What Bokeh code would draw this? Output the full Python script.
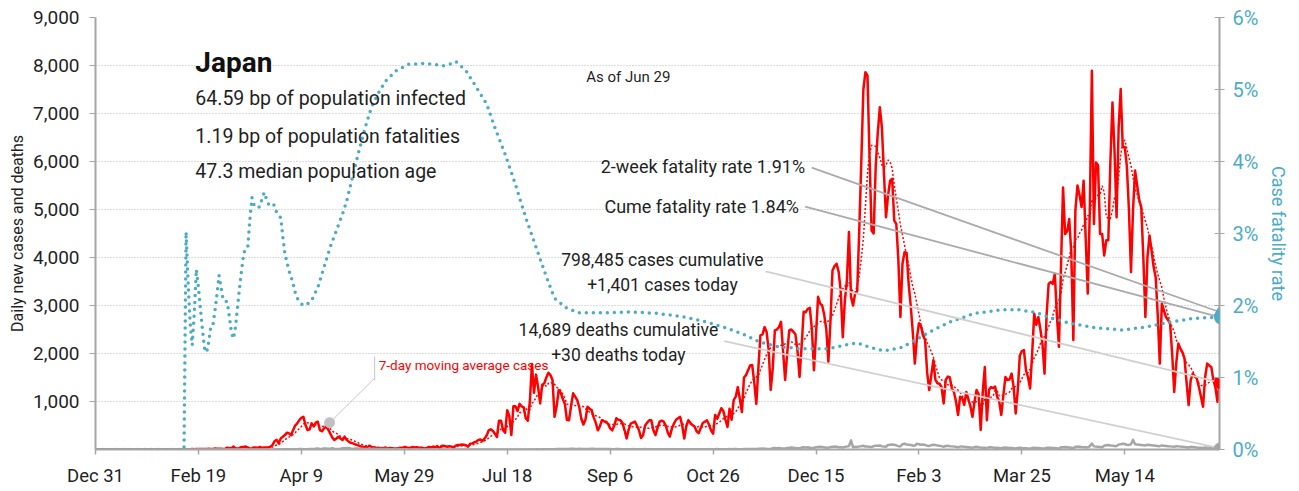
import pandas as pd
from bokeh.plotting import figure
from bokeh.models import Range1d, LinearAxis, FixedTicker, NumeralTickFormatter, PrintfTickFormatter, ColumnDataSource, Label
from bokeh.core.properties import value
from bokeh.embed import file_html
from bokeh.resources import INLINE

FONT = "Roboto"
TEAL = "#4BACC6"
RED = "#FF0000"
GRAY = "#A6A6A6"
TXT = "#1F1F1F"

# ---- data (day index 0 = Dec 31 2019, one row per week Tue..Mon) ----
cases_weeks = [
    [0, 0, 0, 0, 0, 0, 0], [0, 0, 0, 0, 0, 0, 0], [0, 0, 1, 0, 0, 0, 0], [0, 0, 1, 1, 0, 0, 1],
    [2, 1, 4, 2, 0, 0, 1], [0, 0, 0, 1, 0, 0, 0], [1, 0, 1, 6, 7, 13, 4], [13, 11, 8, 12, 10, 9, 14],
    [12, 9, 23, 15, 17, 15, 11], [18, 39, 29, 28, 60, 28, 15], [34, 52, 53, 62, 41, 23, 15],
    [44, 39, 36, 51, 35, 43, 41], [41, 60, 96, 177, 200, 128, 232], [266, 300, 351, 336, 300, 405, 500],
    [544, 613, 658, 683, 509, 405, 420], [544, 482, 560, 579, 405, 380, 440],
    [475, 420, 336, 250, 198, 230, 267], [230, 198, 267, 200, 163, 140, 128],
    [110, 94, 80, 59, 59, 50, 40], [80, 55, 45, 40, 20, 30, 20], [30, 40, 20, 30, 26, 14, 21],
    [23, 38, 33, 50, 45, 30, 35], [52, 40, 48, 38, 35, 30, 18], [35, 55, 41, 62, 45, 72, 25],
    [72, 80, 70, 58, 70, 60, 40], [80, 95, 95, 105, 100, 85, 60], [120, 128, 150, 165, 200, 210, 180],
    [230, 290, 400, 420, 390, 330, 260], [600, 600, 400, 350, 820, 700, 300],
    [900, 900, 800, 950, 900, 880, 650], [600, 1000, 1780, 1180, 1560, 1300, 960],
    [1350, 1380, 1500, 1600, 1550, 1450, 680], [900, 1240, 1180, 1050, 950, 620, 610],
    [900, 1170, 1100, 1030, 880, 640, 520], [620, 890, 850, 820, 670, 560, 400],
    [480, 610, 590, 580, 530, 440, 400], [500, 650, 620, 610, 550, 400, 230],
    [420, 540, 560, 580, 500, 400, 240], [300, 500, 560, 610, 610, 400, 300],
    [450, 580, 600, 580, 500, 350, 270], [440, 540, 620, 650, 680, 500, 230],
    [490, 610, 550, 510, 480, 380, 340], [450, 550, 580, 610, 520, 400, 330],
    [720, 640, 750, 860, 800, 620, 470], [850, 620, 1030, 1100, 1300, 1050, 780],
    [1500, 1550, 1650, 1750, 1760, 1400, 950], [1700, 2380, 2400, 2550, 2450, 2070, 1240],
    [1700, 2480, 2500, 2550, 2660, 2050, 1450], [2000, 2480, 2500, 2450, 2400, 2050, 1510],
    [2150, 2870, 2860, 2930, 2950, 2500, 1650], [2400, 3180, 3040, 3000, 2800, 2500, 1830],
    [2650, 3730, 3820, 3870, 3700, 3300, 2340], [3100, 3520, 4530, 3180, 3000, 3250, 3300],
    [4560, 6000, 7500, 7860, 7790, 6100, 4560], [4500, 5900, 6600, 7130, 6710, 5750, 4840],
    [5300, 5600, 5640, 4770, 4700, 3950, 2760], [3870, 4110, 4100, 3450, 3000, 2450, 1790],
    [2320, 2630, 2570, 2370, 2280, 1600, 1240], [1550, 1860, 1450, 1380, 1370, 1300, 960],
    [1450, 1520, 1500, 1270, 1200, 1000, 720], [1100, 1070, 930, 1200, 1050, 900, 680],
    [1000, 1240, 1150, 410, 1200, 1720, 610], [1240, 1300, 1280, 1310, 1100, 1000, 720],
    [1130, 1510, 1450, 1460, 1580, 1300, 750], [1230, 1960, 2050, 2070, 1650, 1500, 1270],
    [2000, 2830, 2600, 2760, 2500, 2200, 1580], [2800, 3450, 3490, 3450, 3660, 2800, 2140],
    [3800, 5460, 4490, 4550, 4800, 4100, 2280], [4980, 5500, 5300, 5050, 5600, 4400, 3250],
    [4980, 7890, 4700, 5980, 5920, 4490, 4490], [4040, 4360, 4360, 6000, 7230, 6230, 4840],
    [6710, 7510, 6300, 6300, 5900, 5000, 3700], [5000, 5810, 5500, 5200, 5050, 4000, 2760],
    [4000, 4460, 4150, 3800, 3590, 2800, 1790], [3040, 2900, 2760, 2700, 2620, 2000, 1200],
    [1800, 2210, 2100, 2030, 1900, 1400, 925], [1445, 1580, 1520, 1480, 1300, 1100, 890],
    [1500, 1790, 1750, 1720, 1450, 1300, 994],
]
cases_last = [1401]

deaths_weeks = [
    [0, 0, 0, 0, 0, 0, 0], [0, 0, 0, 0, 0, 0, 0], [0, 0, 0, 0, 0, 0, 0], [0, 0, 0, 0, 0, 0, 0],
    [0, 0, 0, 0, 0, 0, 0], [0, 0, 0, 0, 0, 0, 0], [0, 0, 1, 0, 0, 0, 0], [0, 0, 0, 1, 0, 0, 0],
    [1, 0, 0, 1, 1, 0, 1], [1, 1, 0, 1, 0, 2, 0], [1, 2, 1, 0, 1, 1, 2], [2, 1, 1, 0, 2, 2, 1],
    [2, 2, 1, 2, 3, 4, 2], [5, 3, 4, 3, 5, 1, 6], [7, 9, 10, 7, 5, 7, 10], [13, 9, 14, 19, 12, 14, 20],
    [22, 15, 14, 29, 18, 11, 12], [18, 26, 27, 29, 32, 21, 13], [19, 23, 21, 18, 14, 13, 10],
    [14, 12, 14, 11, 10, 8, 10], [10, 9, 10, 6, 7, 5, 2], [8, 4, 3, 5, 4, 1, 2], [2, 1, 3, 2, 1, 2, 1],
    [2, 1, 1, 2, 1, 1, 0], [1, 2, 1, 1, 1, 0, 1], [2, 1, 1, 2, 0, 1, 1], [1, 0, 1, 0, 0, 1, 1],
    [1, 1, 0, 0, 2, 1, 1], [1, 2, 1, 1, 0, 1, 1], [1, 1, 2, 0, 1, 1, 1], [2, 2, 3, 2, 4, 3, 2],
    [5, 6, 5, 6, 7, 4, 4], [8, 10, 11, 10, 13, 12, 9], [16, 14, 12, 13, 15, 11, 12],
    [12, 12, 13, 16, 15, 8, 10], [12, 10, 10, 11, 8, 9, 6], [7, 9, 10, 8, 7, 6, 5], [6, 7, 9, 6, 5, 5, 4],
    [6, 8, 7, 6, 5, 4, 3], [5, 6, 5, 7, 6, 4, 4], [5, 6, 6, 5, 4, 6, 3], [7, 6, 5, 4, 6, 5, 4],
    [5, 7, 6, 5, 4, 5, 3], [6, 8, 5, 6, 7, 4, 5], [8, 7, 9, 8, 6, 7, 5], [10, 12, 11, 10, 9, 8, 9],
    [15, 18, 20, 17, 14, 13, 12], [25, 30, 28, 31, 24, 19, 22], [33, 35, 40, 38, 30, 25, 28],
    [40, 45, 42, 48, 38, 30, 35], [45, 50, 55, 52, 45, 40, 38], [50, 56, 60, 58, 48, 45, 42],
    [55, 62, 70, 190, 48, 55, 50], [65, 70, 78, 60, 62, 55, 50], [70, 80, 78, 85, 65, 60, 58],
    [95, 100, 105, 98, 85, 70, 65], [110, 120, 105, 100, 95, 85, 80], [120, 110, 100, 105, 95, 80, 75],
    [90, 100, 95, 85, 80, 70, 55], [75, 80, 70, 65, 60, 55, 45], [60, 65, 55, 50, 45, 40, 35],
    [50, 55, 45, 40, 38, 35, 30], [45, 48, 40, 38, 35, 30, 25], [38, 40, 35, 30, 30, 25, 20],
    [30, 35, 30, 28, 25, 22, 18], [30, 35, 32, 30, 28, 22, 20], [35, 38, 35, 32, 30, 25, 22],
    [45, 48, 50, 45, 40, 35, 30], [55, 60, 58, 52, 48, 45, 40], [70, 125, 65, 60, 55, 50, 45],
    [80, 90, 95, 85, 80, 75, 70], [105, 110, 120, 115, 100, 95, 110], [200, 110, 105, 100, 95, 90, 85],
    [100, 95, 90, 85, 80, 75, 70], [85, 80, 75, 70, 65, 60, 55], [70, 65, 60, 55, 50, 45, 40],
    [55, 50, 45, 40, 38, 35, 32], [40, 38, 35, 32, 30, 28, 25],
]
deaths_last = [30]

# cumulative case fatality rate (%), (day index, value)
cfr_points = [
    (0, 0), (43, 0), (44, 3.02), (45, 2.30), (46, 1.75), (47, 1.45), (48, 1.90), (49, 2.50), (50, 2.25),
    (51, 1.95), (52, 1.65), (53, 1.40), (54, 1.35), (55, 1.50), (56, 1.70), (57, 1.72), (58, 1.92),
    (59, 2.15), (60, 2.42), (61, 2.25), (62, 2.08), (63, 2.06), (64, 2.05), (65, 1.85), (66, 1.63),
    (67, 1.54), (68, 1.70), (69, 1.98), (70, 2.25), (71, 2.50), (72, 2.72), (73, 2.80), (74, 2.82),
    (75, 3.20), (76, 3.50), (77, 3.40), (78, 3.36), (79, 3.36), (80, 3.38), (81, 3.50), (82, 3.57),
    (83, 3.48), (84, 3.41), (85, 3.42), (86, 3.43), (87, 3.38), (88, 3.29), (89, 3.25), (90, 3.22),
    (91, 2.95), (92, 2.72), (93, 2.60), (94, 2.48), (95, 2.40), (96, 2.30), (97, 2.18), (98, 2.10),
    (100, 2.02), (102, 2.00), (105, 2.07), (108, 2.25), (111, 2.53), (114, 2.81), (117, 3.04),
    (120, 3.27), (122, 3.45), (125, 3.80), (128, 4.15), (131, 4.47), (134, 4.75), (138, 4.98),
    (141, 5.12), (146, 5.26), (152, 5.35), (159, 5.36), (164, 5.35), (169, 5.33), (172, 5.35),
    (175, 5.39), (180, 5.26), (185, 5.03), (190, 4.80), (194, 4.47), (199, 4.10), (204, 3.68),
    (209, 3.22), (214, 2.81), (219, 2.40), (223, 2.10), (229, 1.96), (235, 1.90), (248, 1.90),
    (261, 1.91), (273, 1.89), (286, 1.84), (297, 1.77), (305, 1.70), (314, 1.61), (322, 1.50),
    (331, 1.43), (343, 1.40), (356, 1.40), (364, 1.45), (370, 1.48), (376, 1.42), (383, 1.37),
    (392, 1.42), (400, 1.55), (407, 1.66), (415, 1.77), (427, 1.89), (435, 1.92), (440, 1.94),
    (449, 1.94), (457, 1.90), (465, 1.82), (474, 1.75), (486, 1.69), (499, 1.66), (510, 1.70),
    (522, 1.77), (533, 1.82), (546, 1.84),
]
two_week_cfr = 1.91

tick_days = [0, 50, 100, 150, 200, 250, 300, 350, 400, 450, 500]
tick_labels = ["Dec 31", "Feb 19", "Apr 9", "May 29", "Jul 18", "Sep 6", "Oct 26",
               "Dec 15", "Feb 3", "Mar 25", "May 14"]
left_ticks = [1000, 2000, 3000, 4000, 5000, 6000, 7000, 8000, 9000]
right_ticks = [0, 1, 2, 3, 4, 5, 6]

info_lines = ["64.59 bp of population infected", "1.19 bp of population fatalities",
              "47.3 median population age"]

# ---- derived ----
cases = [v for w in cases_weeks for v in w] + cases_last
deaths = [v for w in deaths_weeks for v in w] + deaths_last
days = list(range(len(cases)))
ma7 = pd.Series(cases).rolling(7, min_periods=1).mean().tolist()
cfr_days = [d for d, _ in cfr_points]
cfr_pct = [v for _, v in cfr_points]
last_day = days[-1]

src = ColumnDataSource(dict(day=days, cases=cases, ma=ma7, deaths=deaths))

p = figure(width=1299, height=490, x_range=Range1d(0, last_day), y_range=Range1d(0, 9000),
           output_backend="svg", toolbar_location=None,
           min_border_left=95, min_border_right=80, min_border_top=17, min_border_bottom=41)
p.extra_y_ranges = {"cfr": Range1d(0, 6)}
p.outline_line_color = None
p.background_fill_color = "white"
p.border_fill_color = "white"
p.xgrid.visible = False
p.ygrid.grid_line_color = "#BDBDBD"
p.ygrid.grid_line_dash = "1 2"
p.ygrid.grid_line_width = 1

# x axis
xa = p.xaxis[0]
xa.ticker = FixedTicker(ticks=tick_days)
xa.major_label_overrides = {d: l for d, l in zip(tick_days, tick_labels)}
xa.axis_line_color = GRAY
xa.axis_line_width = 2
xa.major_tick_line_color = GRAY
xa.major_tick_line_width = 1.5
xa.major_tick_in = 0
xa.major_tick_out = 5
xa.minor_tick_line_color = None
xa.major_label_text_font = FONT
xa.major_label_text_font_size = "18.5px"
xa.major_label_text_color = TXT
xa.major_label_standoff = 10

# left axis
ya = p.yaxis[0]
ya.ticker = FixedTicker(ticks=left_ticks)
ya.formatter = NumeralTickFormatter(format="0,0")
ya.axis_line_color = GRAY
ya.axis_line_width = 2
ya.major_tick_line_color = GRAY
ya.major_tick_in = 0
ya.major_tick_out = 6
ya.minor_tick_line_color = None
ya.major_label_text_font = FONT
ya.major_label_text_font_size = "19px"
ya.major_label_text_color = TXT
ya.major_label_standoff = 10
ya.axis_label = "Daily new cases and deaths"
ya.axis_label_text_font = FONT
ya.axis_label_text_font_size = "16px"
ya.axis_label_text_font_style = "normal"
ya.axis_label_text_color = TXT
ya.axis_label_standoff = 3
p.ygrid.ticker = FixedTicker(ticks=left_ticks)

# right axis
ra = LinearAxis(y_range_name="cfr", ticker=FixedTicker(ticks=right_ticks),
                formatter=PrintfTickFormatter(format="%d%%"))
ra.axis_label = "Case fatality rate"
ra.axis_line_color = GRAY
ra.axis_line_width = 2
ra.major_tick_line_color = GRAY
ra.major_tick_in = 5
ra.major_tick_out = 5
ra.minor_tick_line_color = None
ra.major_label_text_font = FONT
ra.major_label_text_font_size = "20px"
ra.major_label_text_color = TEAL
ra.major_label_standoff = 8
ra.axis_label_text_font = FONT
ra.axis_label_text_font_size = "18px"
ra.axis_label_text_font_style = "normal"
ra.axis_label_text_color = TEAL
ra.axis_label_standoff = 7
p.add_layout(ra, "right")

# series
p.line("day", "cases", source=src, color=RED, line_width=2.5, line_join="round")
p.line("day", "ma", source=src, color=RED, line_width=1.5, line_dash="2 2")
p.line("day", "deaths", source=src, color=GRAY, line_width=2.5, line_join="round")
p.line(cfr_days, cfr_pct, y_range_name="cfr", color=TEAL, line_width=3.5,
       line_dash="0 7", line_cap="round")

# leader lines for the right-edge annotations
p.segment(x0=[347.9, 344.7], y0=[3.914, 3.374], x1=[last_day, last_day],
          y1=[two_week_cfr, cfr_pct[-1]], y_range_name="cfr", color="#ABABAB", line_width=1.8)
p.segment(x0=[325.5, 305.4], y0=[3711, 2256], x1=[last_day, last_day],
          y1=[cases[-1], deaths[-1]], color="#D0D0D0", line_width=1.8)

# end markers: glyphs plus labels (labels are not clipped at the frame edge)
p.scatter([last_day], [cases[-1]], marker="circle", size=10, color=RED)
p.scatter([last_day], [deaths[-1]], marker="circle", size=10, color=GRAY)
p.scatter([last_day], [two_week_cfr], marker="triangle", size=10, color=TEAL, y_range_name="cfr")
p.scatter([last_day], [cfr_pct[-1]], marker="circle", size=10, color=TEAL, y_range_name="cfr")
for yv, sym, col, rng in [(cases[-1], "\u25CF", RED, "default"), (deaths[-1], "\u25CF", GRAY, "default"),
                          (two_week_cfr, "\u25B2", TEAL, "cfr"), (cfr_pct[-1], "\u25CF", TEAL, "cfr")]:
    p.add_layout(Label(x=last_day, y=yv, y_range_name=rng, text=sym, text_color=col,
                       text_font="DejaVu Sans", text_font_size="13px",
                       text_align="center", text_baseline="middle"))

# 7-day average call-out
p.segment(x0=[135.6, 135.6], y0=[1944, 1486], x1=[135.6, 113.7], y1=[1445, 557],
          color="#C8C8C8", line_width=1)
p.scatter([113.7], [557], marker="circle", size=10, color="#C0C0C0")
p.text([137.6], [1757], text=["7-day moving average cases"], text_font=value(FONT),
       text_font_size="13.5px", text_color=RED, text_baseline="middle")

# title block
p.text([48.5], [8066], text=["Japan"], text_font=value(FONT), text_font_size="28px",
       text_font_style="bold", text_color="#111111", text_baseline="middle")
p.text([48.5, 48.5, 48.5], [7318, 6522, 5790], text=info_lines, text_font=value(FONT),
       text_font_size="19.5px", text_color=TXT, text_baseline="middle")
p.text([238.4], [7769], text=["As of Jun 29"], text_font=value(FONT), text_font_size="15px",
       text_color=TXT, text_baseline="middle")

# right-edge annotation texts
p.text([344.7, 341.7], [5888, 5056],
       text=["2-week fatality rate 1.91%", "Cume fatality rate 1.84%"],
       text_font=value(FONT), text_font_size="18px", text_color=TXT,
       text_align="right", text_baseline="middle")
p.text([275.4, 275.4, 254.0, 254.0], [3940, 3426, 2484, 1971],
       text=["798,485 cases cumulative", "+1,401 cases today",
             "14,689 deaths cumulative", "+30 deaths today"],
       text_font=value(FONT), text_font_size="17.5px", text_color=TXT,
       text_align="center", text_baseline="middle")

open("out.html", "w").write(file_html(p, INLINE))
